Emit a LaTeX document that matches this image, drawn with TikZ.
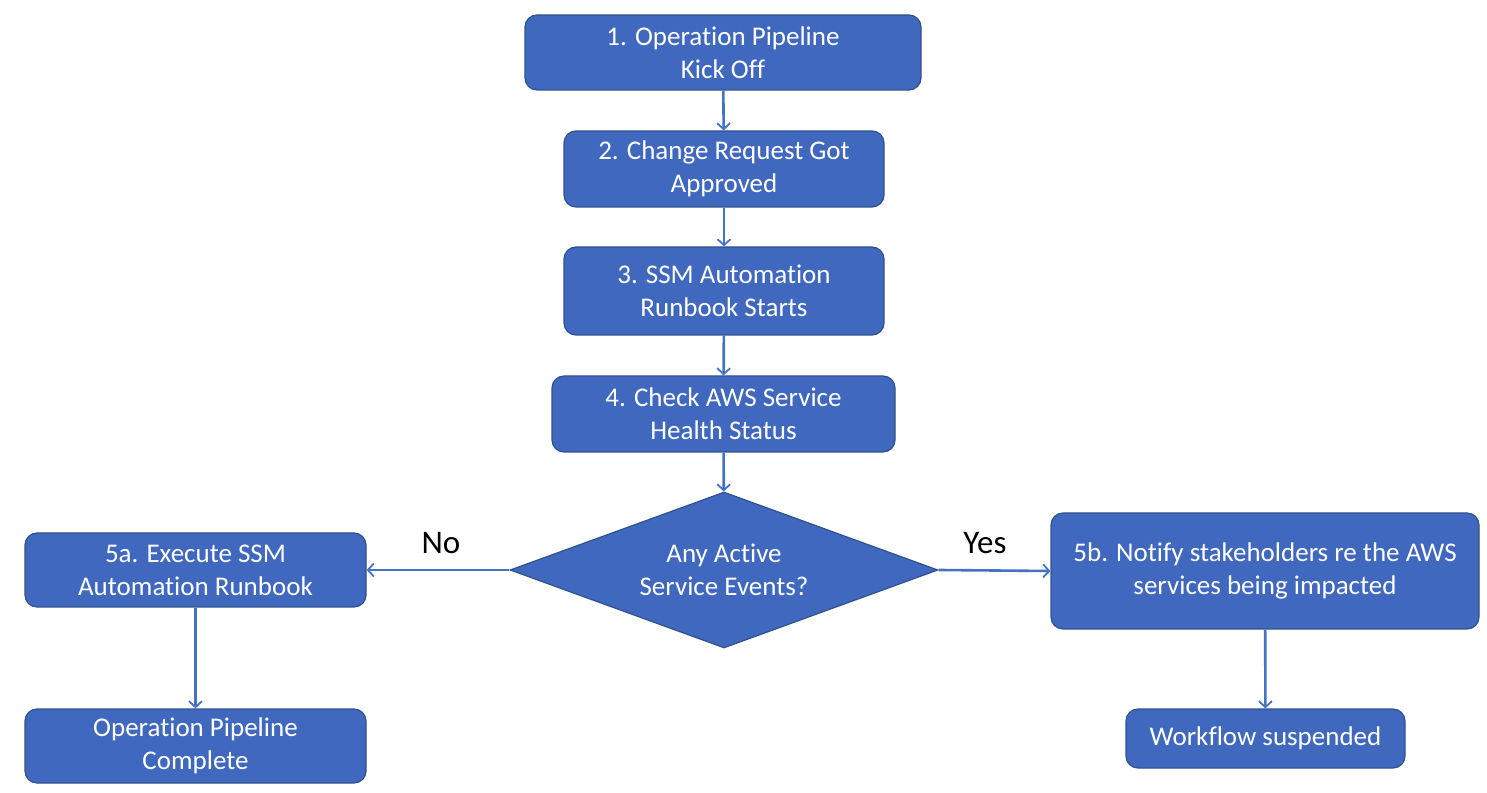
\documentclass[tikz,border=0pt]{standalone}
\usepackage{fontspec}
\setmainfont{Carlito}[Ligatures={NoCommon}]
\usetikzlibrary{shapes.geometric,arrows.meta}
\definecolor{boxfill}{HTML}{3F68BE}
\definecolor{boxline}{HTML}{2F528F}
\definecolor{arrowc}{HTML}{4472C4}
\begin{document}
\begin{tikzpicture}[x=1pt,y=1pt,
  box/.style={draw=boxline, line width=1.2pt, fill=boxfill, rounded corners=12pt, text=white,
    font=\fontsize{27}{33}\selectfont, align=center, inner sep=0pt},
  dec/.style={draw=boxline, line width=1.2pt, fill=boxfill, diamond, aspect=2.74, text=white,
    font=\fontsize{27}{33}\selectfont, align=center, inner sep=0pt},
  conn/.style={draw=arrowc, line width=2.6pt, -{Straight Barb[length=6pt,width=13pt,line width=1.8pt]}},
  lbl/.style={text=black, font=\fontsize{33}{36}\selectfont}
]
\useasboundingbox (0,0) rectangle (1487,792);
\node[box, minimum width=396pt, minimum height=75pt] (n1) at (723,739.5) {1. Operation Pipeline\\Kick Off};
\node[box, minimum width=320pt, minimum height=76pt] (n2) at (724,623) {2. Change Request Got\\Approved};
\node[box, minimum width=320pt, minimum height=88pt] (n3) at (724,501) {3. SSM Automation\\Runbook Starts};
\node[box, minimum width=343pt, minimum height=76pt] (n4) at (723.5,378) {4. Check AWS Service\\Health Status};
\node[dec, minimum width=428pt, minimum height=156pt] (d) at (724,222) {Any Active\\Service Events?};
\node[box, minimum width=341pt, minimum height=74pt] (n5a) at (195.5,222) {5a. Execute SSM\\Automation Runbook};
\node[box, minimum width=341pt, minimum height=74pt] (n6) at (195.5,46) {Operation Pipeline\\Complete};
\node[box, minimum width=428pt, minimum height=116pt] (n5b) at (1265,221) {5b. Notify stakeholders re the AWS\\services being impacted};
\node[box, minimum width=279pt, minimum height=59pt] (n7) at (1265.5,53.5) {Workflow suspended};
\node[lbl] (no) at (441,249) {No};
\node[lbl] (yes) at (985,249) {Yes};
\draw[conn] (n1) -- (n2);
\draw[conn] (n2) -- (n3);
\draw[conn] (n3) -- (n4);
\draw[conn] (n4) -- (d);
\draw[conn] (d.west) -- (n5a.east);
\draw[conn] (d.east) -- (n5b.west);
\draw[conn] (n5a) -- (n6);
\draw[conn] (n5b) -- (n7);
\end{tikzpicture}
\end{document}
